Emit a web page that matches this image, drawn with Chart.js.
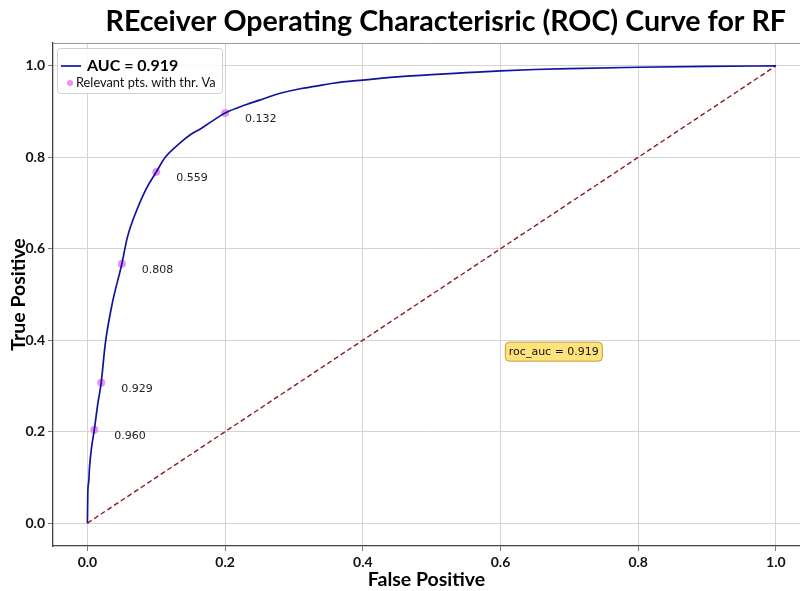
<!DOCTYPE html>
<html>
<head>
<meta charset="utf-8">
<script src="https://cdn.jsdelivr.net/npm/chart.js@4.4.1/dist/chart.umd.min.js"></script>
<style>
  html, body { margin: 0; padding: 0; background: #fff; overflow: hidden; }
  #wrap { width: 804px; height: 591px; }
</style>
</head>
<body>
<div id="wrap"><canvas id="roc"></canvas></div>
<script>
// ROC curve for the RF model
const fpr = [0, 0.0005, 0.002, 0.003, 0.006, 0.01, 0.015, 0.02, 0.026, 0.036, 0.05, 0.058, 0.072, 0.085, 0.1, 0.113, 0.135, 0.15, 0.164, 0.18, 0.2, 0.23, 0.25, 0.28, 0.309, 0.33, 0.357, 0.4, 0.45, 0.5, 0.55, 0.6, 0.65, 0.7, 0.8, 0.9, 1.0];
const tpr = [0, 0.064, 0.092, 0.121, 0.165, 0.204, 0.26, 0.307, 0.393, 0.48, 0.567, 0.625, 0.686, 0.73, 0.768, 0.8, 0.832, 0.85, 0.862, 0.878, 0.897, 0.915, 0.925, 0.94, 0.95, 0.955, 0.962, 0.969, 0.976, 0.981, 0.985, 0.989, 0.992, 0.994, 0.997, 0.999, 1.0];

// threshold points picked along the curve
const thrFpr = [0.01, 0.02, 0.05, 0.1, 0.2];
const thrTpr = [0.204, 0.307, 0.567, 0.768, 0.897];
const thrVals = ['0.960', '0.929', '0.808', '0.559', '0.132'];

const rocAuc = 0.919;
const xTicks = [0, 0.2, 0.4, 0.6, 0.8, 1.0];
const yTicks = [0, 0.2, 0.4, 0.6, 0.8, 1.0];

const titleText = 'REceiver Operating Characterisric (ROC) Curve for RF';
const FONT = 'Lato, "Open Sans", sans-serif';

const overlay = {
    id: 'overlay',
    afterDraw(chart) {
        const ctx = chart.ctx;
        const area = chart.chartArea;
        const xs = chart.scales.x, ys = chart.scales.y;
        ctx.save();

        // top spine
        ctx.strokeStyle = '#999';
        ctx.lineWidth = 1;
        ctx.beginPath();
        ctx.moveTo(area.left, area.top + 0.5);
        ctx.lineTo(area.right, area.top + 0.5);
        ctx.stroke();

        // title
        ctx.fillStyle = '#000';
        ctx.font = 'bold 28.6px ' + FONT;
        ctx.textAlign = 'right';
        ctx.textBaseline = 'alphabetic';
        ctx.fillText(titleText, 786, 31);

        // threshold labels next to each point
        ctx.font = '11px "DejaVu Sans"';
        ctx.fillStyle = '#222';
        ctx.textAlign = 'left';
        ctx.textBaseline = 'middle';
        thrVals.forEach((t, i) => {
            ctx.fillText(t, xs.getPixelForValue(thrFpr[i]) + 20, ys.getPixelForValue(thrTpr[i]) + 6);
        });

        // roc_auc box
        const label = 'roc_auc = ' + rocAuc.toFixed(3);
        ctx.font = '11px "DejaVu Sans"';
        const tw = ctx.measureText(label).width;
        const bx = xs.getPixelForValue(0.607), by = ys.getPixelForValue(0.375);
        ctx.beginPath();
        ctx.roundRect(bx, by - 9.5, tw + 7, 19, 4);
        ctx.fillStyle = 'rgba(255, 221, 100, 0.85)';
        ctx.fill();
        ctx.strokeStyle = '#b8a040';
        ctx.lineWidth = 1;
        ctx.stroke();
        ctx.fillStyle = '#111';
        ctx.fillText(label, bx + 3.5, by + 0.5);

        // legend
        const lx = area.left + 4, ly = area.top + 5;
        ctx.beginPath();
        ctx.roundRect(lx + 0.5, ly + 0.5, 165, 45, 3);
        ctx.fillStyle = 'rgba(255,255,255,0.85)';
        ctx.fill();
        ctx.strokeStyle = '#d0d0d0';
        ctx.stroke();
        const roc = chart.data.datasets[0];
        ctx.strokeStyle = roc.borderColor;
        ctx.lineWidth = roc.borderWidth;
        ctx.beginPath();
        ctx.moveTo(lx + 4, ly + 18);
        ctx.lineTo(lx + 24, ly + 18);
        ctx.stroke();
        ctx.fillStyle = '#000';
        ctx.font = 'bold 16px ' + FONT;
        ctx.fillText(roc.label, lx + 30, ly + 18);
        const pts = chart.data.datasets[2];
        ctx.fillStyle = pts.backgroundColor;
        ctx.beginPath();
        ctx.arc(lx + 13, ly + 35, 3, 0, Math.PI * 2);
        ctx.fill();
        ctx.fillStyle = '#111';
        ctx.font = '12.8px ' + FONT;
        ctx.fillText(pts.label, lx + 19, ly + 35);

        ctx.restore();
    }
};

new Chart(document.getElementById('roc'), {
    type: 'scatter',
    data: {
        datasets: [
            {
                label: 'AUC = ' + rocAuc.toFixed(3),
                data: fpr.map((x, i) => ({ x: x, y: tpr[i] })),
                showLine: true,
                borderColor: '#1212a0',
                borderWidth: 1.7,
                pointRadius: 0,
                cubicInterpolationMode: 'monotone'
            },
            {
                label: 'chance',
                data: [{ x: 0, y: 0 }, { x: 1, y: 1 }],
                showLine: true,
                borderColor: '#8b1a1a',
                borderWidth: 1.4,
                borderDash: [5, 3],
                pointRadius: 0
            },
            {
                label: 'Relevant pts. with thr. Va',
                data: thrFpr.map((x, i) => ({ x: x, y: thrTpr[i] })),
                backgroundColor: 'rgba(235, 125, 240, 0.85)',
                borderWidth: 0,
                pointRadius: 4
            }
        ]
    },
    options: {
        responsive: true,
        maintainAspectRatio: false,
        animation: false,
        devicePixelRatio: 1,
        layout: { padding: { top: 43, right: 0, left: 0, bottom: 0 } },
        plugins: {
            legend: { display: false },
            tooltip: { enabled: false }
        },
        scales: {
            x: {
                type: 'linear',
                min: -0.05,
                max: 1.035,
                afterBuildTicks: (s) => { s.ticks = xTicks.map(v => ({ value: v })); },
                afterFit: (s) => { s.height = 45; },
                grid: { color: '#d3d3d3', tickColor: '#777', tickLength: 5 },
                border: { color: '#444', width: 1.3 },
                ticks: {
                    color: '#111',
                    font: { family: FONT, size: 14, weight: 'bold' },
                    padding: 3,
                    maxRotation: 0,
                    callback: (v) => v.toFixed(1)
                },
                title: {
                    display: true,
                    text: 'False Positive',
                    color: '#000',
                    font: { family: FONT, size: 19.5, weight: 'bold' },
                    padding: { top: 1, bottom: 0 }
                }
            },
            y: {
                type: 'linear',
                min: -0.05,
                max: 1.05,
                afterBuildTicks: (s) => { s.ticks = yTicks.map(v => ({ value: v })); },
                afterFit: (s) => { s.width = 53; },
                grid: { color: '#d3d3d3', tickColor: '#777', tickLength: 5 },
                border: { color: '#444', width: 1.3 },
                ticks: {
                    color: '#111',
                    font: { family: FONT, size: 14, weight: 'bold' },
                    padding: 3,
                    callback: (v) => v.toFixed(1)
                },
                title: {
                    display: true,
                    text: 'True Positive',
                    color: '#000',
                    font: { family: FONT, size: 19.5, weight: 'bold' },
                    padding: { top: 7, bottom: 0 }
                }
            }
        }
    },
    plugins: [overlay]
});
</script>
</body>
</html>
